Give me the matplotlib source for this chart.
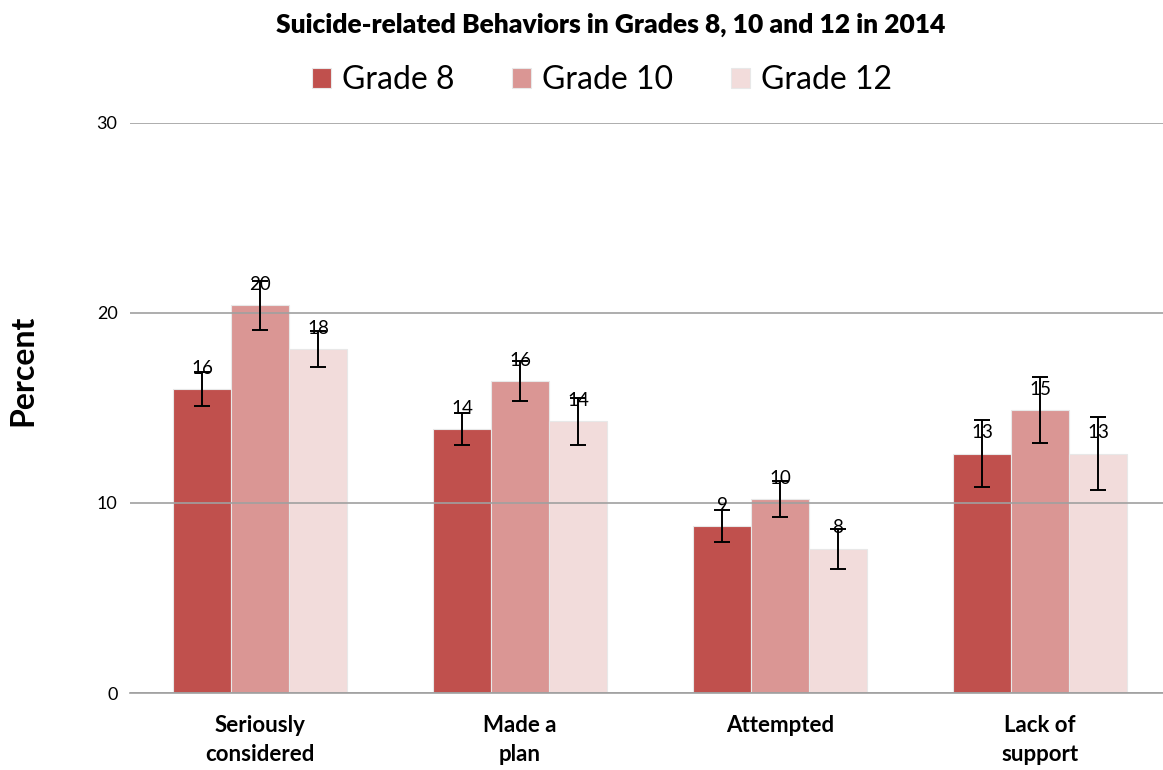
import numpy as np
import matplotlib
matplotlib.use("Agg")
import matplotlib.pyplot as plt

plt.rcParams['font.family'] = ['Lato', 'DejaVu Sans']

# data
categories = ['Seriously\nconsidered', 'Made a\nplan', 'Attempted', 'Lack of\nsupport']
grades = ['Grade 8', 'Grade 10', 'Grade 12']
grade8 = [16.0, 13.9, 8.8, 12.6]
grade10 = [20.4, 16.4, 10.2, 14.9]
grade12 = [18.1, 14.3, 7.6, 12.6]
err8 = [0.9, 0.85, 0.85, 1.75]
err10 = [1.3, 1.05, 0.95, 1.75]
err12 = [0.95, 1.25, 1.05, 1.9]
colors = ['#C0504D', '#DA9694', '#F2DCDB']

fig = plt.figure(figsize=(11.63, 7.70), dpi=100)
ax = fig.add_axes([130 / 1163, 0.1, 1033 / 1163, 0.7403])

x = np.arange(len(categories))
w = 0.223
series = [grade8, grade10, grade12]
errs = [err8, err10, err12]
for i, (vals, e) in enumerate(zip(series, errs)):
    pos = x + (i - 1) * w
    ax.bar(pos, vals, width=w, color=colors[i], edgecolor='#E8E8E8',
           linewidth=0.8, label=grades[i])
    ax.errorbar(pos, vals, yerr=e, fmt='none', ecolor='black',
                elinewidth=1.4, capsize=6, capthick=1.4, zorder=3)
    for px, v in zip(pos, vals):
        ax.annotate(f'{v:.0f}', (px, v), xytext=(0, 11), textcoords='offset points',
                    ha='center', va='baseline', fontsize=13.5, zorder=4)

ax.set_xlim(-0.5, 3.5 - 7 / 260)
ax.set_ylim(0, 30)
ax.set_yticks([0, 10, 20, 30])
ax.yaxis.grid(True, color='#A0A0A0', linewidth=1.2)
ax.tick_params(axis='y', length=0, labelsize=13, pad=9)
ax.tick_params(axis='x', length=0, pad=16)
ax.set_xticks(x)
ax.set_xticklabels(categories, fontsize=16, fontweight='bold', linespacing=1.45)
for s in ['top', 'right', 'left']:
    ax.spines[s].set_visible(False)
ax.spines['bottom'].set_color('#A0A0A0')
ax.spines['bottom'].set_linewidth(1.2)

fig.text(23 / 1163, 1 - 370 / 770, 'Percent', rotation=90, ha='center', va='center',
         fontsize=23, fontweight='bold')
fig.text(611 / 1163, 1 - 25 / 770, 'Suicide-related Behaviors in Grades 8, 10 and 12 in 2014',
         ha='center', va='center', fontsize=19, fontweight='heavy')

fig.legend(loc='center', bbox_to_anchor=(602 / 1163, 1 - 80 / 770), ncol=3, frameon=False,
           fontsize=23, handlelength=0.6, handleheight=0.6, handletextpad=0.35,
           columnspacing=1.8)

fig.savefig('out.png', dpi=100)
